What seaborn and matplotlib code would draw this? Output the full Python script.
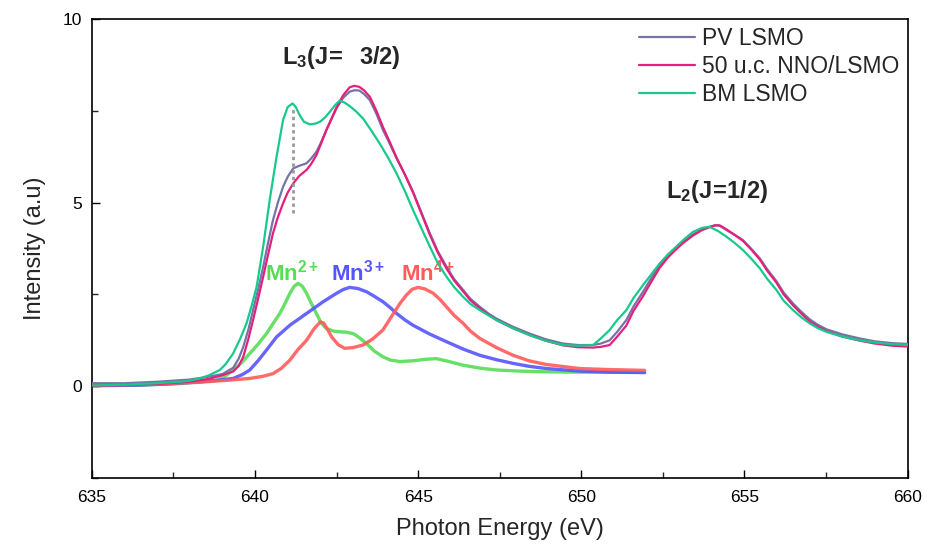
import numpy as np
import pandas as pd
import matplotlib
matplotlib.use("Agg")
import matplotlib.pyplot as plt
import seaborn as sns

# ---- data ----
pv_x = [635.0, 636.0, 637.0, 638.0, 638.6, 639.0, 639.33, 639.5, 639.64, 639.8, 639.94, 640.1, 640.25, 640.4,
        640.55, 640.7, 640.86, 641.0, 641.17, 641.35, 641.58, 641.72, 641.88, 642.03, 642.19, 642.35,
        642.5, 642.7, 642.9, 643.05, 643.2, 643.35, 643.52, 643.72, 643.92, 644.13, 644.34, 644.6,
        644.84, 645.1, 645.36, 645.6, 645.87, 646.1, 646.38, 646.6, 646.89, 647.15, 647.4, 647.9,
        648.42, 648.9, 649.44, 649.9, 650.36, 650.6, 650.87, 651.1, 651.38, 651.6, 651.89, 652.15,
        652.4, 652.65, 652.91, 653.15, 653.42, 653.7, 653.93, 654.1, 654.24, 654.45, 654.7, 654.95,
        655.2, 655.47, 655.7, 655.98, 656.2, 656.49, 656.75, 657.0, 657.25, 657.51, 658.0, 658.53,
        659.0, 659.55, 660.0]
pv_y = [0.08, 0.08, 0.12, 0.18, 0.26, 0.33, 0.5, 0.75, 1.07, 1.55, 2.07, 2.65, 3.25, 3.9,
        4.52, 5.0, 5.43, 5.7, 5.93, 6.0, 6.07, 6.2, 6.38, 6.65, 6.98, 7.28,
        7.57, 7.85, 8.02, 8.06, 8.05, 7.95, 7.79, 7.42, 6.98, 6.6, 6.2, 5.75,
        5.3, 4.73, 4.16, 3.68, 3.25, 2.92, 2.62, 2.38, 2.16, 1.98, 1.84, 1.62,
        1.43, 1.28, 1.16, 1.12, 1.12, 1.16, 1.25, 1.48, 1.8, 2.17, 2.57, 2.95,
        3.3, 3.57, 3.78, 3.96, 4.13, 4.27, 4.34, 4.38, 4.37, 4.25, 4.12, 3.98,
        3.75, 3.48, 3.18, 2.86, 2.55, 2.25, 2.02, 1.82, 1.67, 1.55, 1.41, 1.3,
        1.22, 1.17, 1.15]

nno_x = [635.0, 636.0, 637.0, 638.0, 638.6, 639.0, 639.33, 639.5, 639.64, 639.8, 639.94, 640.1, 640.25, 640.4,
         640.55, 640.7, 640.86, 641.0, 641.17, 641.35, 641.58, 641.72, 641.88, 642.03, 642.19, 642.35,
         642.5, 642.7, 642.9, 643.05, 643.2, 643.35, 643.52, 643.72, 643.92, 644.13, 644.34, 644.6,
         644.84, 645.1, 645.36, 645.6, 645.87, 646.1, 646.38, 646.6, 646.89, 647.15, 647.4, 647.9,
         648.42, 648.9, 649.44, 649.9, 650.36, 650.6, 650.87, 651.1, 651.38, 651.6, 651.89, 652.15,
         652.4, 652.65, 652.91, 653.15, 653.42, 653.7, 653.93, 654.1, 654.24, 654.45, 654.7, 654.95,
         655.2, 655.47, 655.7, 655.98, 656.2, 656.49, 656.75, 657.0, 657.25, 657.51, 658.0, 658.53,
         659.0, 659.55, 660.0]
nno_y = [0.02, 0.03, 0.06, 0.12, 0.2, 0.3, 0.4, 0.55, 0.8, 1.3, 1.8, 2.4, 2.98, 3.58,
         4.16, 4.6, 4.98, 5.27, 5.52, 5.72, 5.89, 6.05, 6.29, 6.62, 6.98, 7.3,
         7.6, 7.92, 8.14, 8.18, 8.15, 8.05, 7.88, 7.5, 7.06, 6.65, 6.22, 5.75,
         5.28, 4.7, 4.12, 3.64, 3.2, 2.88, 2.58, 2.34, 2.12, 1.95, 1.8, 1.58,
         1.39, 1.24, 1.11, 1.06, 1.05, 1.07, 1.12, 1.35, 1.65, 2.05, 2.45, 2.85,
         3.22, 3.5, 3.73, 3.92, 4.1, 4.25, 4.33, 4.38, 4.38, 4.27, 4.12, 3.96,
         3.73, 3.45, 3.14, 2.82, 2.5, 2.2, 1.97, 1.76, 1.62, 1.5, 1.35, 1.24,
         1.16, 1.1, 1.08]

bm_x = [635.0, 636.0, 637.0, 637.7, 638.0, 638.31, 638.6, 638.92, 639.1, 639.33, 639.55, 639.74, 639.9,
        640.05, 640.25, 640.45, 640.66, 640.86, 641.0, 641.15, 641.25, 641.37, 641.5, 641.68, 641.85,
        641.99, 642.15, 642.29, 642.45, 642.6, 642.75, 642.9, 643.1, 643.31, 643.55, 643.82, 644.08,
        644.34, 644.6, 644.84, 645.1, 645.36, 645.6, 645.87, 646.1, 646.38, 646.6, 646.89, 647.15,
        647.4, 647.9, 648.42, 648.9, 649.44, 649.9, 650.36, 650.6, 650.87, 651.1, 651.38, 651.6,
        651.89, 652.15, 652.4, 652.65, 652.91, 653.15, 653.42, 653.7, 653.93, 654.2, 654.45, 654.7,
        654.95, 655.2, 655.47, 655.7, 655.98, 656.2, 656.49, 656.75, 657.0, 657.25, 657.51, 658.0,
        658.53, 659.0, 659.55, 660.0]
bm_y = [0.02, 0.04, 0.08, 0.12, 0.15, 0.21, 0.3, 0.44, 0.6, 0.89, 1.3, 1.71, 2.2,
        2.71, 3.8, 5.07, 6.25, 7.25, 7.6, 7.7, 7.6, 7.38, 7.2, 7.13, 7.15,
        7.2, 7.32, 7.47, 7.65, 7.78, 7.72, 7.63, 7.48, 7.29, 6.98, 6.61, 6.22,
        5.79, 5.3, 4.8, 4.3, 3.8, 3.35, 2.98, 2.7, 2.43, 2.24, 2.07, 1.93,
        1.8, 1.58, 1.39, 1.24, 1.12, 1.1, 1.12, 1.3, 1.53, 1.8, 2.07, 2.4,
        2.75, 3.05, 3.34, 3.58, 3.8, 4.0, 4.2, 4.31, 4.34, 4.22, 4.07, 3.9,
        3.71, 3.48, 3.21, 2.92, 2.62, 2.33, 2.07, 1.87, 1.71, 1.58, 1.48, 1.35,
        1.25, 1.19, 1.14, 1.13]

mn2_x = [635.0, 636.5, 637.5, 638.2, 638.82, 639.1, 639.33, 639.6, 639.84, 640.1, 640.35, 640.55, 640.76,
         640.92, 641.07, 641.2, 641.32, 641.45, 641.58, 641.73, 641.88, 642.03, 642.19, 642.4, 642.6,
         642.8, 643.01, 643.2, 643.42, 643.65, 643.92, 644.15, 644.44, 644.84, 645.2, 645.56, 645.95,
         646.38, 646.9, 647.4, 648.1, 648.93, 650.0, 651.94]
mn2_y = [0.02, 0.03, 0.06, 0.1, 0.16, 0.28, 0.44, 0.65, 0.89, 1.15, 1.43, 1.7, 1.98,
         2.25, 2.53, 2.72, 2.8, 2.72, 2.53, 2.25, 1.98, 1.72, 1.57, 1.5, 1.48,
         1.47, 1.43, 1.32, 1.16, 0.96, 0.8, 0.71, 0.67, 0.69, 0.73, 0.75, 0.67,
         0.57, 0.49, 0.44, 0.41, 0.39, 0.38, 0.38]

mn3_x = [635.0, 636.5, 637.5, 638.31, 638.85, 639.33, 639.6, 639.84, 640.1, 640.35, 640.66, 641.07, 641.58,
         642.09, 642.5, 642.7, 642.9, 643.15, 643.42, 643.65, 643.92, 644.13, 644.34, 644.6, 644.84,
         645.35, 645.87, 646.38, 646.89, 647.4, 647.91, 648.4, 648.93, 649.95, 650.9, 651.94]
mn3_y = [0.01, 0.03, 0.07, 0.12, 0.16, 0.21, 0.31, 0.44, 0.7, 0.98, 1.34, 1.66, 1.98,
         2.3, 2.53, 2.63, 2.69, 2.66, 2.57, 2.45, 2.3, 2.15, 1.98, 1.8, 1.66,
         1.42, 1.21, 1.01, 0.84, 0.72, 0.62, 0.54, 0.48, 0.41, 0.38, 0.37]

mn4_x = [635.0, 636.78, 638.5, 639.3, 639.84, 640.25, 640.55, 640.8, 641.07, 641.3, 641.58, 641.8, 642.0,
         642.1, 642.22, 642.35, 642.55, 642.75, 643.0, 643.31, 643.6, 643.92, 644.15, 644.44, 644.64,
         644.82, 645.0, 645.2, 645.46, 645.67, 645.87, 646.1, 646.38, 646.6, 646.89, 647.4, 647.91,
         648.4, 648.93, 649.95, 650.9, 651.94]
mn4_y = [0.03, 0.05, 0.12, 0.17, 0.21, 0.27, 0.34, 0.48, 0.71, 0.98, 1.25, 1.55, 1.75,
         1.72, 1.55, 1.34, 1.13, 1.03, 1.05, 1.12, 1.28, 1.53, 1.85, 2.25, 2.48,
         2.64, 2.69, 2.65, 2.53, 2.36, 2.16, 1.93, 1.71, 1.5, 1.3, 1.05, 0.84,
         0.69, 0.59, 0.48, 0.45, 0.43]

series_labels = ["PV LSMO", "50 u.c. NNO/LSMO", "BM LSMO"]
component_labels = [r"$\mathbf{Mn^{2+}}$", r"$\mathbf{Mn^{3+}}$", r"$\mathbf{Mn^{4+}}$"]
edge_labels = [r"$\mathbf{L_3(J\!=\ \ 3/2)}$", r"$\mathbf{L_2(J\!=\!1/2)}$"]
x_ticks = [635, 640, 645, 650, 655, 660]
y_ticks = [0, 5, 10]
marker_x = 641.15
marker_y = (4.71, 7.61)

# ---- figure ----
sns.set_theme(style="white")
plt.rcParams["font.family"] = ["Liberation Sans", "DejaVu Sans"]
plt.rcParams["mathtext.fontset"] = "custom"
plt.rcParams["mathtext.rm"] = "Liberation Sans"
plt.rcParams["mathtext.bf"] = "Liberation Sans:bold"
plt.rcParams["mathtext.it"] = "Liberation Sans:italic"

fig = plt.figure(figsize=(9.28, 5.5), dpi=100)
ax = fig.add_axes([0.099, 0.131, 0.879, 0.8345])

c_pv = "#7474a8"
c_nno = "#e5207c"
c_bm = "#16c98c"
c_mn2 = "#55dd55"
c_mn3 = "#5555ff"
c_mn4 = "#ff5a5a"

# components (drawn under spectra)
for xs, ys, c in [(mn2_x, mn2_y, c_mn2), (mn3_x, mn3_y, c_mn3), (mn4_x, mn4_y, c_mn4)]:
    sns.lineplot(x=xs, y=ys, ax=ax, color=c, linewidth=2.4, alpha=0.9, zorder=2)

# component labels
comp_pos = [(641.13, 3.1), (643.15, 3.1), (645.3, 3.1)]
for lab, (tx, ty), c in zip(component_labels, comp_pos, [c_mn2, c_mn3, c_mn4]):
    ax.text(tx, ty, lab, color=c, fontsize=16, ha="center", va="center", zorder=1.5)

# spectra
df = pd.concat([
    pd.DataFrame({"E": pv_x, "I": pv_y, "s": series_labels[0]}),
    pd.DataFrame({"E": nno_x, "I": nno_y, "s": series_labels[1]}),
    pd.DataFrame({"E": bm_x, "I": bm_y, "s": series_labels[2]}),
])
sns.lineplot(data=df, x="E", y="I", hue="s", hue_order=series_labels,
             palette=[c_pv, c_nno, c_bm], ax=ax, linewidth=1.6, zorder=3, sort=False)

# dotted marker
ax.vlines(marker_x, marker_y[0], marker_y[1], colors="#999999", linestyles=(0, (1.2, 1.2)),
          linewidth=2, zorder=4)

# edge labels
ax.text(642.66, 8.94, edge_labels[0], fontsize=17, ha="center", va="center")
ax.text(654.15, 5.29, edge_labels[1], fontsize=17, ha="center", va="center")

ax.set_xlim(635, 660)
ax.set_ylim(-2.5, 10)
ax.set_xticks(x_ticks)
ax.set_yticks(y_ticks)
ax.set_xticks([637.5, 642.5, 647.5, 652.5, 657.5], minor=True)
ax.set_yticks([-2.5, 2.5, 7.5], minor=True)
ax.tick_params(axis="both", which="major", direction="in", length=6, width=1, labelsize=12.5,
               colors="black", bottom=True, left=True, pad=7)
ax.tick_params(axis="both", which="minor", direction="in", length=4, width=1, bottom=True, left=True)
ax.tick_params(axis="x", pad=9)
for sp in ax.spines.values():
    sp.set_color("black")
    sp.set_linewidth(1.2)
ax.set_xlabel("Photon Energy (eV)", fontsize=17, labelpad=9)
ax.set_ylabel("Intensity (a.u)", fontsize=17, labelpad=12)

leg = ax.legend(loc="upper right", frameon=False, fontsize=16.5, handlelength=2.45,
                handletextpad=0.3, labelspacing=0.22, borderpad=0.2, borderaxespad=0.15, title=None)
for h in leg.get_lines():
    h.set_linewidth(1.6)

fig.savefig("out.png", dpi=100)
